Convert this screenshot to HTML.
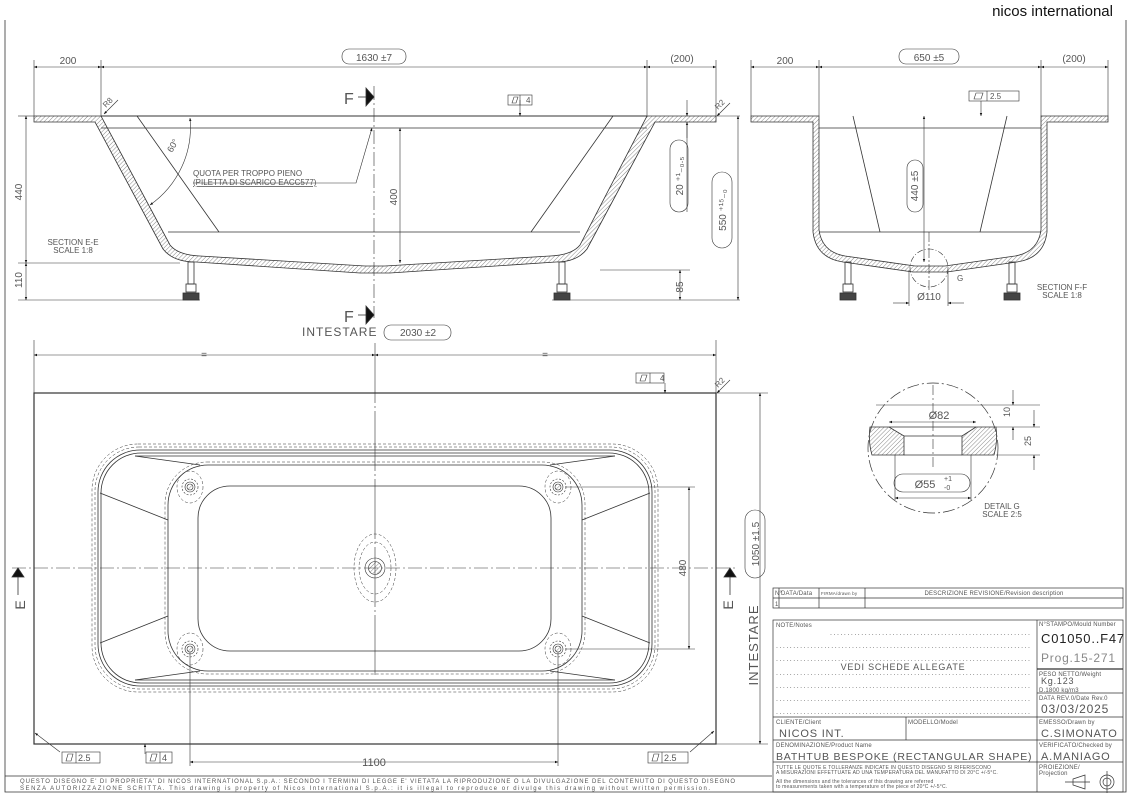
<!DOCTYPE html>
<html><head><meta charset="utf-8"><style>
html,body{margin:0;padding:0;background:#fff}
svg{display:block}
text{font-family:"Liberation Sans",sans-serif;fill:#555}
</style></head><body>
<svg width="1129" height="798" viewBox="0 0 1129 798" xmlns="http://www.w3.org/2000/svg">
<defs>
<pattern id="h" width="3" height="3" patternUnits="userSpaceOnUse" patternTransform="rotate(45)"><line x1="0" y1="0" x2="0" y2="3" stroke="#555" stroke-width="0.7"/></pattern>
<marker id="a" viewBox="0 0 10 10" refX="10" refY="5" markerWidth="7" markerHeight="5" orient="auto-start-reverse"><path d="M0 1L10 5L0 9z" fill="#111"/></marker>
<g id="ft" stroke="#333" fill="none" stroke-width="0.6"><circle r="5"/><circle r="3" fill="url(#h)"/><circle r="8" stroke-dasharray="2 1.5"/><ellipse rx="13" ry="16" stroke-dasharray="3 2" stroke-width="0.5"/></g>
</defs>
<g stroke="#333" stroke-width="0.8" fill="none">
<path d="M5 20V792H1126V20"/>
<line x1="5" y1="776" x2="772" y2="776"/>
</g>
<text x="1113" y="16" font-size="15" text-anchor="end" style="fill:#111">nicos international</text>

<!-- ================= SECTION E-E ================= -->
<g stroke="#333" stroke-width="0.8" fill="none">
<path d="M34 116H101L170 245Q178 255 200 256L365 266H385L550 256Q572 255 580 245L647 116H716V122H655L587 249Q577 262 556 262L390 273H360L196 262Q173 262 163 249L95 122H34Z" fill="url(#h)"/>
<line x1="101" y1="128" x2="647" y2="128"/>
<line x1="168" y1="232" x2="580" y2="232"/>
<line x1="137" y1="116" x2="219" y2="232"/>
<line x1="613" y1="116" x2="531" y2="232"/>
<line x1="101" y1="116" x2="647" y2="116" stroke-width="1"/>
<rect x="188" y="262" width="6" height="22"/><rect x="186" y="284" width="10" height="8"/><rect x="183" y="293" width="16" height="7" fill="#444"/>
<rect x="559" y="262" width="6" height="22"/><rect x="557" y="284" width="10" height="8"/><rect x="554" y="293" width="16" height="7" fill="#444"/>
<line x1="374" y1="86" x2="374" y2="318" stroke-dasharray="14 3 2 3" stroke-width="0.6"/>
<g stroke-width="0.6">
<line x1="34" y1="60" x2="34" y2="116"/><line x1="101" y1="60" x2="101" y2="116"/><line x1="647" y1="60" x2="647" y2="116"/><line x1="716" y1="60" x2="716" y2="116"/>
<line x1="34" y1="67" x2="101" y2="67" marker-start="url(#a)" marker-end="url(#a)"/>
<line x1="101" y1="67" x2="647" y2="67" marker-start="url(#a)" marker-end="url(#a)"/>
<line x1="647" y1="67" x2="716" y2="67" marker-start="url(#a)" marker-end="url(#a)"/>
<line x1="18" y1="116" x2="34" y2="116"/><line x1="18" y1="263" x2="180" y2="263"/><line x1="18" y1="300" x2="200" y2="300"/>
<line x1="26" y1="116" x2="26" y2="263" marker-start="url(#a)" marker-end="url(#a)"/>
<line x1="26" y1="263" x2="26" y2="300" marker-start="url(#a)" marker-end="url(#a)"/>
<line x1="400" y1="128" x2="400" y2="263" marker-start="url(#a)" marker-end="url(#a)"/>
<line x1="552" y1="300" x2="740" y2="300"/><line x1="600" y1="270" x2="690" y2="270"/>
<line x1="680" y1="270" x2="680" y2="300" marker-start="url(#a)" marker-end="url(#a)"/>
<line x1="687" y1="100" x2="687" y2="116" marker-end="url(#a)"/><line x1="687" y1="138" x2="687" y2="122" marker-end="url(#a)"/><line x1="687" y1="122" x2="687" y2="212"/>
<line x1="716" y1="116" x2="740" y2="116"/><line x1="738" y1="116" x2="738" y2="300" marker-start="url(#a)" marker-end="url(#a)"/>
<path d="M150 205A95 95 0 0 0 190 118" marker-start="url(#a)" marker-end="url(#a)"/>
<path d="M193 183H356L372 128" marker-end="url(#a)"/>
<line x1="520" y1="100" x2="520" y2="116" marker-end="url(#a)"/>
<line x1="118" y1="100" x2="104" y2="114" marker-end="url(#a)"/>
<line x1="730" y1="103" x2="717" y2="116" marker-end="url(#a)"/>
</g>
<rect x="508" y="95" width="24" height="10" stroke-width="0.6"/><line x1="520" y1="95" x2="520" y2="105" stroke-width="0.6"/>
<path d="M512 103L514 97H518L516 103Z" stroke-width="0.6"/>
<rect x="342" y="49" width="64" height="15" rx="7" stroke-width="0.6"/>
<rect x="384" y="325" width="67" height="15" rx="7" stroke-width="0.6"/>
<rect x="670" y="140" width="18" height="72" rx="9" stroke-width="0.6"/>
<rect x="712" y="172" width="20" height="76" rx="10" stroke-width="0.6"/>
<line x1="358" y1="97" x2="366" y2="97"/><path d="M366 88L374 97L366 106Z" fill="#111"/>
<line x1="358" y1="315" x2="366" y2="315"/><path d="M366 306L374 315L366 324Z" fill="#111"/>
</g>
<g font-size="10">
<text x="68" y="64" text-anchor="middle">200</text>
<text x="374" y="61" text-anchor="middle">1630 ±7</text>
<text x="682" y="62" text-anchor="middle">(200)</text>
<text x="526" y="103" font-size="8">4</text>
<text x="344" y="104" font-size="16">F</text>
<text x="344" y="322" font-size="16">F</text>
<text x="302" y="336" font-size="12" letter-spacing="1">INTESTARE</text>
<text x="418" y="336" text-anchor="middle">2030 ±2</text>
<text x="193" y="176" font-size="8">QUOTA PER TROPPO PIENO</text>
<text x="193" y="185" font-size="8" text-decoration="underline">(PILETTA DI SCARICO EACC577)</text>
<text x="73" y="245" font-size="8" text-anchor="middle">SECTION E-E</text>
<text x="73" y="253" font-size="8" text-anchor="middle">SCALE 1:8</text>
<text transform="translate(22 192) rotate(-90)" text-anchor="middle">440</text>
<text transform="translate(22 280) rotate(-90)" text-anchor="middle">110</text>
<text transform="translate(397 197) rotate(-90)" text-anchor="middle">400</text>
<text transform="translate(683 287) rotate(-90)" text-anchor="middle">85</text>
<text transform="translate(683 176) rotate(-90)" text-anchor="middle">20 ⁺¹₋₀.₅</text>
<text transform="translate(726 210) rotate(-90)" text-anchor="middle">550 ⁺¹⁵₋₀</text>
<text transform="translate(172 153) rotate(-60)" font-size="9">60°</text>
<text transform="translate(106 108) rotate(-45)" font-size="8">R8</text>
<text transform="translate(718 110) rotate(-45)" font-size="8">R2</text>
</g>

<!-- ================= SECTION F-F ================= -->
<g stroke="#333" stroke-width="0.8" fill="none">
<path d="M751 116H819V230Q822 252 845 256L915 266H945L1015 256Q1038 252 1041 230V116H1108V122H1047V232Q1044 258 1017 262L947 272H913L843 262Q816 258 813 232V122H751Z" fill="url(#h)"/>
<line x1="819" y1="128" x2="1041" y2="128"/>
<line x1="819" y1="232" x2="1041" y2="232"/>
<line x1="853" y1="116" x2="880" y2="232"/>
<line x1="1007" y1="116" x2="980" y2="232"/>
<circle cx="929" cy="268" r="19" stroke-dasharray="6 2 1 2" stroke-width="0.6"/>
<rect x="845" y="262" width="6" height="22"/><rect x="843" y="284" width="10" height="8"/><rect x="840" y="293" width="16" height="7" fill="#444"/>
<rect x="1009" y="262" width="6" height="22"/><rect x="1007" y="284" width="10" height="8"/><rect x="1004" y="293" width="16" height="7" fill="#444"/>
<g stroke-width="0.6">
<line x1="751" y1="60" x2="751" y2="116"/><line x1="819" y1="60" x2="819" y2="116"/><line x1="1041" y1="60" x2="1041" y2="116"/><line x1="1108" y1="60" x2="1108" y2="116"/>
<line x1="751" y1="67" x2="819" y2="67" marker-start="url(#a)" marker-end="url(#a)"/>
<line x1="819" y1="67" x2="1041" y2="67" marker-start="url(#a)" marker-end="url(#a)"/>
<line x1="1041" y1="67" x2="1108" y2="67" marker-start="url(#a)" marker-end="url(#a)"/>
<line x1="924" y1="116" x2="924" y2="262" marker-start="url(#a)" marker-end="url(#a)"/>
<line x1="929" y1="232" x2="929" y2="290" stroke-dasharray="10 2 2 2"/>
<line x1="909" y1="270" x2="909" y2="306"/><line x1="948" y1="270" x2="948" y2="306"/>
<line x1="893" y1="303" x2="909" y2="303" marker-end="url(#a)"/><line x1="964" y1="303" x2="948" y2="303" marker-end="url(#a)"/>
<line x1="981" y1="101" x2="981" y2="116" marker-end="url(#a)"/>
</g>
<rect x="969" y="91" width="50" height="10" stroke-width="0.6"/><line x1="987" y1="91" x2="987" y2="101" stroke-width="0.6"/>
<path d="M974 99L976 93H983L981 99Z" stroke-width="0.6"/>
<rect x="899" y="49" width="60" height="15" rx="7" stroke-width="0.6"/>
<rect x="907" y="160" width="16" height="52" rx="8" stroke-width="0.6"/>
</g>
<g font-size="10">
<text x="785" y="64" text-anchor="middle">200</text>
<text x="929" y="61" text-anchor="middle">650 ±5</text>
<text x="1074" y="62" text-anchor="middle">(200)</text>
<text x="990" y="99" font-size="8">2.5</text>
<text transform="translate(918 186) rotate(-90)" text-anchor="middle">440 ±5</text>
<text x="929" y="300" text-anchor="middle">Ø110</text>
<text x="957" y="281" font-size="8">G</text>
<text x="1062" y="290" font-size="8" text-anchor="middle">SECTION F-F</text>
<text x="1062" y="298" font-size="8" text-anchor="middle">SCALE 1:8</text>
</g>

<!-- ================= DETAIL G ================= -->
<g stroke="#333" stroke-width="0.8" fill="none">
<circle cx="933" cy="448" r="65" stroke-dasharray="12 3 2 3" stroke-width="0.7"/>
<line x1="876" y1="405" x2="990" y2="405" stroke-width="0.6"/>
<path d="M870 427H889L904 436V455H872Q868 441 870 427Z" fill="url(#h)"/>
<path d="M996 427H976L962 436V455H994Q998 441 996 427Z" fill="url(#h)"/>
<line x1="889" y1="427" x2="976" y2="427"/><line x1="904" y1="436" x2="962" y2="436"/><line x1="904" y1="455" x2="962" y2="455"/>
<line x1="933" y1="385" x2="933" y2="470" stroke-dasharray="10 3 2 3" stroke-width="0.6"/>
<g stroke-width="0.6">
<line x1="889" y1="422" x2="976" y2="422" marker-start="url(#a)" marker-end="url(#a)"/>
<line x1="895" y1="498" x2="971" y2="498" marker-start="url(#a)" marker-end="url(#a)"/>
<line x1="895" y1="455" x2="895" y2="500"/><line x1="971" y1="455" x2="971" y2="500"/>
<line x1="990" y1="405" x2="1040" y2="405"/><line x1="996" y1="427" x2="1040" y2="427"/><line x1="996" y1="455" x2="1040" y2="455"/>
<line x1="1013" y1="390" x2="1013" y2="405" marker-end="url(#a)"/><line x1="1013" y1="440" x2="1013" y2="427" marker-end="url(#a)"/>
<line x1="1034" y1="410" x2="1034" y2="427" marker-end="url(#a)"/><line x1="1034" y1="470" x2="1034" y2="455" marker-end="url(#a)"/>
</g>
<rect x="894" y="474" width="76" height="18" rx="9" stroke-width="0.6"/>
</g>
<g font-size="11">
<text x="939" y="419" text-anchor="middle">Ø82</text>
<text x="925" y="488" text-anchor="middle">Ø55</text>
<text x="944" y="481" font-size="7">+1</text><text x="944" y="490" font-size="7">-0</text>
<text transform="translate(1010 412) rotate(-90)" text-anchor="middle" font-size="9">10</text>
<text transform="translate(1031 441) rotate(-90)" text-anchor="middle" font-size="9">25</text>
<text x="1002" y="509" font-size="8" text-anchor="middle">DETAIL G</text>
<text x="1002" y="517" font-size="8" text-anchor="middle">SCALE 2:5</text>
</g>

<!-- ================= PLAN VIEW ================= -->
<g stroke="#333" stroke-width="0.8" fill="none">
<rect x="34" y="393" width="682" height="351" stroke-width="1.2"/>
<rect x="92" y="444" width="566" height="248" rx="46" stroke-dasharray="3 2" stroke-width="0.5"/>
<rect x="95" y="447" width="560" height="242" rx="44" stroke-dasharray="3 2" stroke-width="0.5"/>
<rect x="98" y="450" width="554" height="236" rx="42"/>
<rect x="101" y="453" width="548" height="230" rx="40"/>
<line x1="135" y1="456" x2="615" y2="456"/><line x1="135" y1="680" x2="615" y2="680"/>
<rect x="168" y="465" width="414" height="206" rx="40"/>
<rect x="165" y="462" width="420" height="212" rx="42" stroke-dasharray="3 2" stroke-width="0.5"/>
<rect x="198" y="486" width="353" height="165" rx="32"/>
<line x1="100" y1="493" x2="168" y2="520"/><line x1="100" y1="643" x2="168" y2="616"/>
<line x1="650" y1="493" x2="582" y2="520"/><line x1="650" y1="643" x2="582" y2="616"/>
<line x1="135" y1="456" x2="200" y2="465"/><line x1="615" y1="456" x2="550" y2="465"/>
<line x1="135" y1="680" x2="200" y2="671"/><line x1="615" y1="680" x2="550" y2="671"/>
<g stroke-width="0.6">
<use href="#ft" x="190" y="487"/><use href="#ft" x="558" y="487"/><use href="#ft" x="190" y="649"/><use href="#ft" x="558" y="649"/>
<circle cx="375" cy="568" r="10"/><circle cx="375" cy="568" r="6.5" fill="url(#h)"/>
<ellipse cx="375" cy="568" rx="16" ry="26" stroke-dasharray="3 2" stroke-width="0.5"/>
<ellipse cx="375" cy="568" rx="21" ry="34" stroke-dasharray="3 2" stroke-width="0.5"/>
<line x1="12" y1="568" x2="738" y2="568" stroke-dasharray="14 3 2 3"/>
<line x1="375" y1="343" x2="375" y2="678" stroke-dasharray="60 3 2 3"/>
<line x1="34" y1="340" x2="34" y2="393"/><line x1="716" y1="340" x2="716" y2="393"/>
<line x1="34" y1="355" x2="375" y2="355" marker-start="url(#a)" marker-end="url(#a)"/>
<line x1="375" y1="355" x2="716" y2="355" marker-start="url(#a)" marker-end="url(#a)"/>
<line x1="716" y1="393" x2="768" y2="393"/><line x1="716" y1="744" x2="768" y2="744"/>
<line x1="760" y1="393" x2="760" y2="744" marker-start="url(#a)" marker-end="url(#a)"/>
<line x1="565" y1="487" x2="695" y2="487"/><line x1="565" y1="649" x2="695" y2="649"/>
<line x1="689" y1="487" x2="689" y2="649" marker-start="url(#a)" marker-end="url(#a)"/>
<line x1="190" y1="652" x2="190" y2="766"/><line x1="558" y1="652" x2="558" y2="766"/>
<line x1="190" y1="762" x2="558" y2="762" marker-start="url(#a)" marker-end="url(#a)"/>
<line x1="665" y1="383" x2="665" y2="393" marker-end="url(#a)"/>
<line x1="145" y1="754" x2="145" y2="744" marker-end="url(#a)"/>
<line x1="60" y1="752" x2="35" y2="733" marker-end="url(#a)"/>
<line x1="690" y1="752" x2="714" y2="731" marker-end="url(#a)"/>
<line x1="730" y1="380" x2="717" y2="393" marker-end="url(#a)"/>
</g>
<g stroke-width="0.6">
<rect x="636" y="373" width="28" height="10"/><line x1="650" y1="373" x2="650" y2="383"/>
<rect x="62" y="752" width="38" height="11"/><line x1="76" y1="752" x2="76" y2="763"/>
<rect x="146" y="752" width="26" height="11"/><line x1="160" y1="752" x2="160" y2="763"/>
<rect x="648" y="752" width="40" height="11"/><line x1="662" y1="752" x2="662" y2="763"/>
<path d="M640 381L642 375H647L645 381Z M66 761L68 754H73L71 761Z M150 761L152 754H157L155 761Z M652 761L654 754H659L657 761Z"/>
<rect x="745" y="510" width="20" height="68" rx="10"/>
</g>
<line x1="18" y1="568" x2="18" y2="595"/><path d="M12 577L18 568L24 577Z" fill="#111"/>
<line x1="730" y1="568" x2="730" y2="595"/><path d="M724 577L730 568L736 577Z" fill="#111"/>
</g>
<g font-size="10">
<text x="204" y="358" text-anchor="middle">=</text>
<text x="545" y="358" text-anchor="middle">=</text>
<text x="660" y="381" font-size="8">4</text>
<text x="78" y="761" font-size="9">2.5</text>
<text x="162" y="761" font-size="9">4</text>
<text x="664" y="761" font-size="9">2.5</text>
<text x="374" y="766" text-anchor="middle" font-size="11">1100</text>
<text transform="translate(686 568) rotate(-90)" text-anchor="middle">480</text>
<text transform="translate(759 544) rotate(-90)" text-anchor="middle">1050 ±1.5</text>
<text transform="translate(758 645) rotate(-90)" text-anchor="middle" font-size="13" letter-spacing="1">INTESTARE</text>
<text transform="translate(25 605) rotate(-90)" text-anchor="middle" font-size="14">E</text>
<text transform="translate(733 605) rotate(-90)" text-anchor="middle" font-size="14">E</text>
<text transform="translate(718 388) rotate(-45)" font-size="8">R2</text>
</g>
<g font-size="6">
<text x="20" y="783" textLength="715" lengthAdjust="spacing">QUESTO DISEGNO E' DI PROPRIETA' DI NICOS INTERNATIONAL S.p.A.: SECONDO I TERMINI DI LEGGE E' VIETATA LA RIPRODUZIONE O LA DIVULGAZIONE DEL CONTENUTO DI QUESTO DISEGNO</text>
<text x="20" y="790" textLength="690" lengthAdjust="spacing">SENZA AUTORIZZAZIONE SCRITTA. This drawing is property of Nicos International S.p.A.: it is illegal to reproduce or divulge this drawing without written permission.</text>
</g>

<!-- ================= TITLE BLOCK ================= -->
<g stroke="#333" stroke-width="0.7" fill="none">
<rect x="773" y="588" width="350" height="20"/>
<line x1="773" y1="598" x2="1123" y2="598"/>
<line x1="779" y1="588" x2="779" y2="608"/><line x1="819" y1="588" x2="819" y2="608"/><line x1="865" y1="588" x2="865" y2="608"/>
<rect x="773" y="620" width="350" height="172"/>
<line x1="1037" y1="620" x2="1037" y2="792"/>
<line x1="1037" y1="669" x2="1123" y2="669" stroke-width="1.2"/>
<line x1="1037" y1="693" x2="1123" y2="693"/>
<line x1="773" y1="717" x2="1123" y2="717"/>
<line x1="773" y1="740" x2="1123" y2="740"/>
<line x1="773" y1="762" x2="1123" y2="762"/>
<line x1="906" y1="717" x2="906" y2="740"/>
<path d="M1073 779L1085 775V789L1073 785Z M1065 782H1090 M1107 771V793"/>
<circle cx="1107" cy="782" r="7"/><circle cx="1107" cy="782" r="4"/>
</g>
<g font-size="6" letter-spacing="0.2">
<text x="775" y="595">N°</text><text x="781" y="595">DATA/Data</text><text x="821" y="595" font-size="4.5">FIRMA/drawn by</text>
<text x="994" y="595" text-anchor="middle">DESCRIZIONE REVISIONE/Revision description</text>
<text x="775" y="606">1</text>
<text x="776" y="627">NOTE/Notes</text>
<text x="1039" y="626">N°STAMPO/Mould Number</text>
<text x="1039" y="676">PESO NETTO/Weight</text>
<text x="1039" y="692">D.1800 kg/m3</text>
<text x="1039" y="700">DATA REV.0/Date Rev.0</text>
<text x="1039" y="724">EMESSO/Drawn by</text>
<text x="1039" y="747">VERIFICATO/Checked by</text>
<text x="1039" y="769">PROIEZIONE/</text><text x="1039" y="775">Projection</text>
<text x="776" y="724">CLIENTE/Client</text>
<text x="908" y="724">MODELLO/Model</text>
<text x="776" y="747">DENOMINAZIONE/Product Name</text>
<text x="776" y="769" font-size="5">TUTTE LE QUOTE E TOLLERANZE INDICATE IN QUESTO DISEGNO SI RIFERISCONO</text>
<text x="776" y="774" font-size="5">A MISURAZIONI EFFETTUATE AD UNA TEMPERATURA DEL MANUFATTO DI 20°C +/-5°C.</text>
<text x="776" y="783" font-size="5">All the dimensions and the tolerances of this drawing are referred</text>
<text x="776" y="788" font-size="5">to measurements taken with a temperature of the piece of 20°C +/-5°C.</text>
</g>
<g font-size="7" letter-spacing="0">
<text x="830" y="635" textLength="200" lengthAdjust="spacing">..........................................................</text>
<text x="776" y="648" textLength="254" lengthAdjust="spacing">..........................................................................</text>
<text x="776" y="661" textLength="254" lengthAdjust="spacing">..........................................................................</text>
<text x="776" y="675" textLength="254" lengthAdjust="spacing">..........................................................................</text>
<text x="776" y="688" textLength="254" lengthAdjust="spacing">..........................................................................</text>
<text x="776" y="701" textLength="254" lengthAdjust="spacing">..........................................................................</text>
<text x="776" y="714" textLength="254" lengthAdjust="spacing">..........................................................................</text>
</g>
<g font-size="11" letter-spacing="0.8">
<text x="903" y="670" text-anchor="middle" font-size="9">VEDI SCHEDE ALLEGATE</text>
<text x="1041" y="643" font-size="13" style="fill:#222">C01050..F47</text>
<text x="1041" y="662" font-size="12" style="fill:#888">Prog.15-271</text>
<text x="1041" y="684" font-size="9">Kg.123</text>
<text x="1041" y="713" font-size="12">03/03/2025</text>
<text x="1041" y="737">C.SIMONATO</text>
<text x="1041" y="760">A.MANIAGO</text>
<text x="779" y="737">NICOS INT.</text>
<text x="776" y="760" font-size="10.5">BATHTUB BESPOKE (RECTANGULAR SHAPE)</text>
</g>
</svg>
</body></html>
